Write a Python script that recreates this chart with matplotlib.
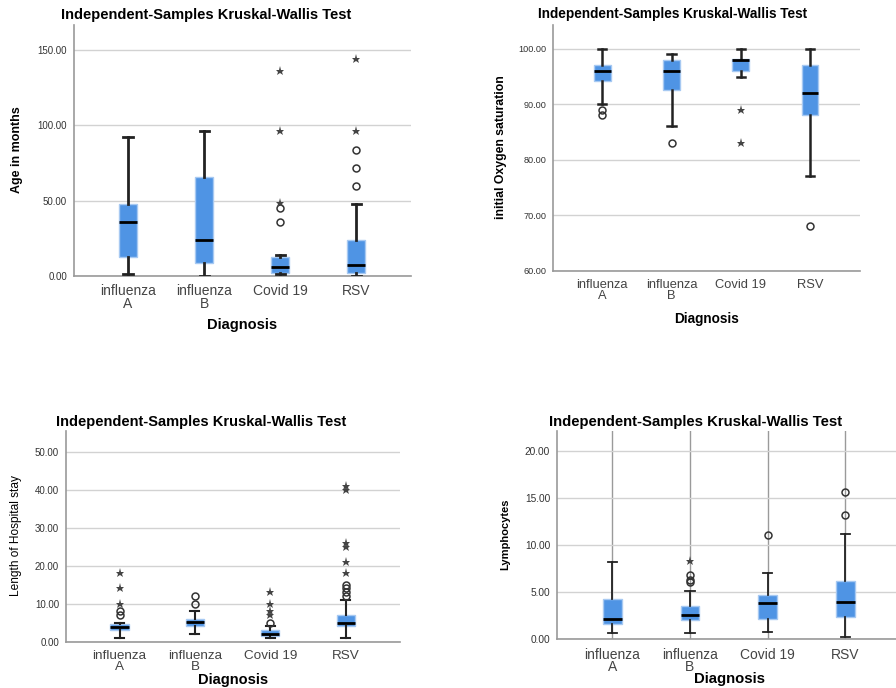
import numpy as np
import matplotlib.pyplot as plt

plt.rcParams['font.family'] = ['Liberation Sans', 'DejaVu Sans']

W, H = 896, 688

categories = ['influenza\nA', 'influenza\nB', 'Covid 19', 'RSV']
title = 'Independent-Samples Kruskal-Wallis Test'

# Age in months
age_low = [1, 0, 1, 0]
age_q1 = [12.6, 8.6, 2, 2.2]
age_med = [36, 24, 6.2, 7.5]
age_q3 = [48, 66, 12.8, 24]
age_high = [92, 96, 14, 48]
age_circles = [[], [], [36, 45], [60, 72, 84]]
age_stars = [[], [], [48.7, 96, 136], [96, 144]]

# initial Oxygen saturation
oxy_low = [90, 86, 95, 77]
oxy_q1 = [94.2, 92.6, 96, 88]
oxy_med = [96, 96, 98, 92]
oxy_q3 = [97, 98, 98.1, 97]
oxy_high = [100, 99, 100, 100]
oxy_circles = [[88, 89], [83], [], [68]]
oxy_stars = [[], [], [83, 89], []]

# Length of Hospital stay
stay_low = [1, 2, 1, 1]
stay_q1 = [3.2, 4.2, 1.6, 4]
stay_med = [3.9, 5.1, 2, 5]
stay_q3 = [4.6, 6, 3.1, 6.9]
stay_high = [5, 8, 4, 11]
stay_circles = [[7, 8], [10, 12], [5], [12, 13, 14, 15]]
stay_stars = [[10, 14, 18], [], [7, 8, 10, 13], [18, 21, 25, 26, 40, 41]]

# Lymphocytes
lym_low = [0.67, 0.67, 0.75, 0.25]
lym_q1 = [1.67, 2.06, 2.16, 2.4]
lym_med = [2.16, 2.6, 3.87, 3.97]
lym_q3 = [4.3, 3.5, 4.7, 6.2]
lym_high = [8.2, 5.14, 7.1, 11.2]
lym_circles = [[], [6.1, 6.3, 6.84], [11.1], [13.2, 15.7]]
lym_stars = [[], [8.3], [], []]

fig = plt.figure(figsize=(W / 100, H / 100), dpi=100)


def px_axes(left, right, top, bottom):
    return fig.add_axes([left / W, 1 - bottom / H, (right - left) / W, (bottom - top) / H])


def ftext(x, y, s, **kw):
    fig.text(x / W, 1 - y / H, s, ha='center', va='center', **kw)


def panel(ax, low, q1, med, q3, high, circles, stars, ylim, yticks,
          xlim_right=4.72, tick_fs=7, cat_fs=10, wlw=1.8, vgrid=False):
    stats = []
    for i in range(4):
        stats.append(dict(whislo=low[i], q1=q1[i], med=med[i], q3=q3[i], whishi=high[i]))
    ax.bxp(stats, positions=[1, 2, 3, 4], widths=0.24, capwidths=0.12,
           showfliers=False, patch_artist=True,
           boxprops=dict(facecolor='#4f94e4', edgecolor='#a7c9f2', linewidth=1),
           medianprops=dict(color='black', linewidth=2),
           whiskerprops=dict(color='#222222', linewidth=wlw),
           capprops=dict(color='#222222', linewidth=wlw), zorder=3)
    for i in range(4):
        if circles[i]:
            ax.plot([i + 1] * len(circles[i]), circles[i], 'o', ms=5, mfc='none',
                    mec='#333333', mew=1.1, zorder=4)
        if stars[i]:
            ax.plot([i + 1] * len(stars[i]), stars[i], '*', ms=6.5, color='#444444',
                    mew=0, zorder=4)
    ax.set_xlim(0.29, xlim_right)
    ax.set_ylim(*ylim)
    ax.set_yticks(yticks)
    ax.set_yticklabels(['%.2f' % v for v in yticks], fontsize=tick_fs, color='#333333')
    ax.set_xticks([1, 2, 3, 4])
    ax.set_xticklabels(categories, fontsize=cat_fs, color='#444444', linespacing=0.85)
    ax.tick_params(length=0, pad=5)
    ax.tick_params(axis='x', pad=6)
    for s in ['top', 'right']:
        ax.spines[s].set_visible(False)
    for s in ['left', 'bottom']:
        ax.spines[s].set_color('#999999')
        ax.spines[s].set_linewidth(1.2)
    ax.set_axisbelow(True)
    ax.grid(axis='y', color='#d2d2d2', linewidth=1)
    if vgrid:
        ax.grid(axis='x', color='#9a9a9a', linewidth=1)


ax1 = px_axes(74, 411, 25, 276)
panel(ax1, age_low, age_q1, age_med, age_q3, age_high, age_circles, age_stars,
      (0, 166.7), [0, 50, 100, 150], wlw=2)
ftext(206, 15, title, fontsize=10.5, fontweight='bold')
ftext(17, 150, 'Age in months', fontsize=9, fontweight='bold', rotation=90)
ftext(242, 325, 'Diagnosis', fontsize=10.5, fontweight='bold')

ax2 = px_axes(553, 860, 25, 270.7)
panel(ax2, oxy_low, oxy_q1, oxy_med, oxy_q3, oxy_high, oxy_circles, oxy_stars,
      (60, 104.3), [60, 70, 80, 90, 100], tick_fs=6.6, cat_fs=9.3)
ftext(673, 14, title, fontsize=9.8, fontweight='bold')
ftext(501, 147, 'initial Oxygen saturation', fontsize=8.8, fontweight='bold', rotation=90)
ftext(706, 319, 'Diagnosis', fontsize=9.8, fontweight='bold')

ax3 = px_axes(66, 400, 430.7, 641.7)
panel(ax3, stay_low, stay_q1, stay_med, stay_q3, stay_high, stay_circles, stay_stars,
      (0, 55.5), [0, 10, 20, 30, 40, 50], cat_fs=9.7, wlw=1.5)
ftext(201, 422, title, fontsize=10.5, fontweight='bold')
ftext(16, 536, 'Length of Hospital stay', fontsize=8.6, rotation=90)
ftext(233, 680, 'Diagnosis', fontsize=10.5, fontweight='bold')

ax4 = px_axes(557, 896, 430.7, 639.3)
panel(ax4, lym_low, lym_q1, lym_med, lym_q3, lym_high, lym_circles, lym_stars,
      (0, 22.2), [0, 5, 10, 15, 20], xlim_right=4.65, tick_fs=7.3, wlw=1.3, vgrid=True)
ftext(696, 422, title, fontsize=10.7, fontweight='bold')
ftext(505, 534, 'Lymphocytes', fontsize=8, fontweight='bold', rotation=90)
ftext(729, 679, 'Diagnosis', fontsize=10.7, fontweight='bold')

fig.savefig('out.png', dpi=100)
